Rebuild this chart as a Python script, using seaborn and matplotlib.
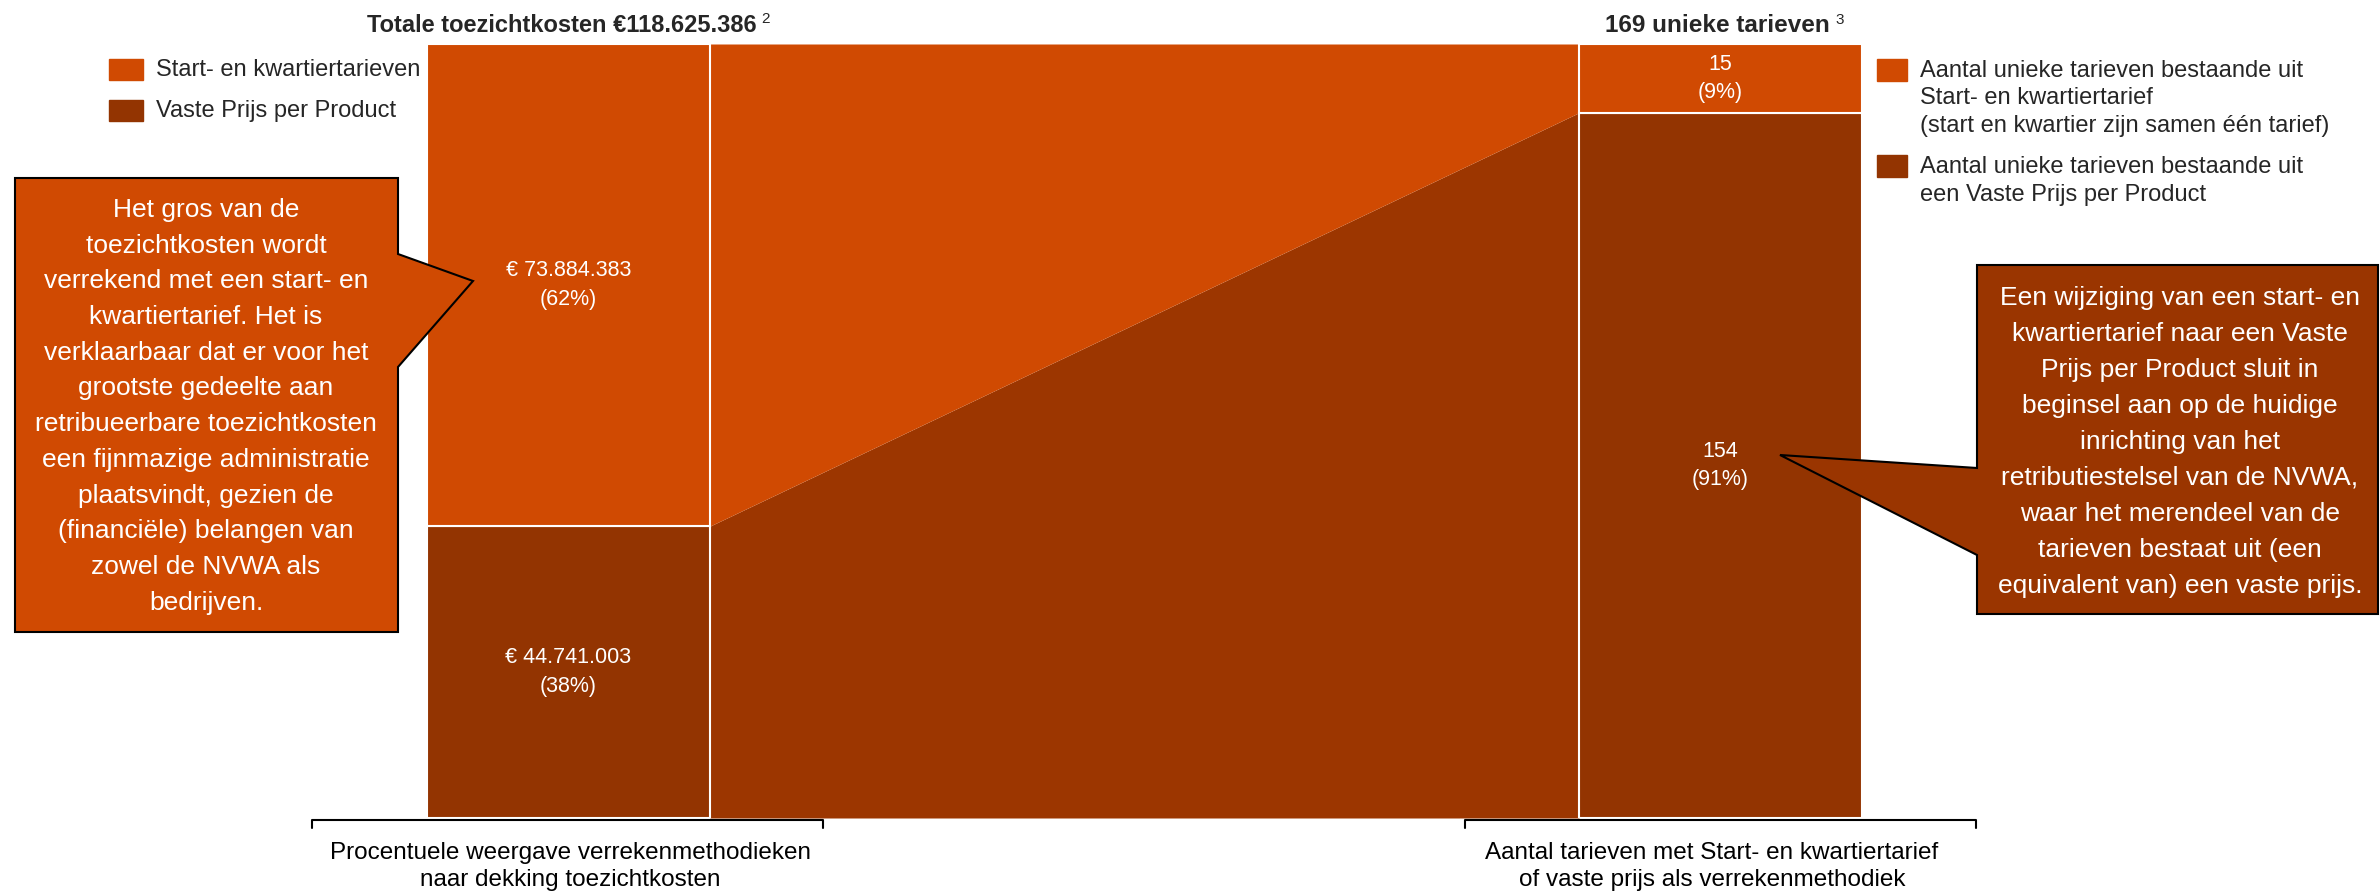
import numpy as np
import matplotlib
matplotlib.use("Agg")
import matplotlib.pyplot as plt
import seaborn as sns
from matplotlib.patches import Polygon, Rectangle

# ---- data -------------------------------------------------------------
methodes = ["Start- en kwartiertarieven", "Vaste Prijs per Product"]
kosten = [73884383, 44741003]          # euro per verrekenmethode
tarieven = [15, 154]                   # aantal unieke tarieven
tarief_legenda = [
    ["Aantal unieke tarieven bestaande uit", "Start- en kwartiertarief",
     "(start en kwartier zijn samen één tarief)"],
    ["Aantal unieke tarieven bestaande uit", "een Vaste Prijs per Product"],
]
bracket_tekst = [
    ["Procentuele weergave verrekenmethodieken", "naar dekking toezichtkosten"],
    ["Aantal tarieven met Start- en kwartiertarief", "of vaste prijs als verrekenmethodiek"],
]
callout_links = [
    "Het gros van de", "toezichtkosten wordt", "verrekend met een start- en",
    "kwartiertarief. Het is", "verklaarbaar dat er voor het", "grootste gedeelte aan",
    "retribueerbare toezichtkosten", "een fijnmazige administratie",
    "plaatsvindt, gezien de", "(financiële) belangen van", "zowel de NVWA als",
    "bedrijven.",
]
callout_rechts = [
    "Een wijziging van een start- en", "kwartiertarief naar een Vaste",
    "Prijs per Product sluit in", "beginsel aan op de huidige",
    "inrichting van het", "retributiestelsel van de NVWA,",
    "waar het merendeel van de", "tarieven bestaat uit (een",
    "equivalent van) een vaste prijs.",
]

orange = "#D04A02"
dark = "#933401"
band_dark = "#9C3600"
call_dark = "#9A3500"

sns.set_theme(style="white")
plt.rcParams['font.family'] = ['Liberation Sans', 'DejaVu Sans']

W, H = 2380, 891
fig = plt.figure(figsize=(W / 100, H / 100), dpi=100)
fig.patch.set_facecolor("white")

# main axes for the bars (pixel box 427..1862 x 44..818)
ax = fig.add_axes([427 / W, (H - 818) / H, 1435 / W, 774 / H])
ax.set_xlim(0, 1)
ax.set_ylim(0, 1)
ax.axis("off")

k_share = np.array(kosten) / sum(kosten)
t_share = np.array(tarieven) / sum(tarieven)
w = 283 / 1435

# connecting band between both bars
xs = [w, 1 - w]
lower = [k_share[1], t_share[1]]
ax.fill_between(xs, 0, lower, color=band_dark, lw=0, zorder=1)
ax.fill_between(xs, lower, 1, color=orange, lw=0, zorder=1)

for x0, share in [(0, k_share), (1 - w, t_share)]:
    ax.bar(x0, share[1], width=w, align="edge", color=dark,
           edgecolor="white", linewidth=1.5, zorder=2)
    ax.bar(x0, share[0], bottom=share[1], width=w, align="edge", color=orange,
           edgecolor="white", linewidth=1.5, zorder=2)

lab_kw = dict(color="white", fontsize=15.5, ha="center", va="center",
              linespacing=1.45, zorder=3)
fmt_eur = lambda v: "€ " + f"{v:,}".replace(",", ".")
ax.text(w / 2, k_share[1] + k_share[0] / 2,
        f"{fmt_eur(kosten[0])}\n({k_share[0] * 100:.0f}%)", **lab_kw)
ax.text(w / 2, k_share[1] / 2,
        f"{fmt_eur(kosten[1])}\n({k_share[1] * 100:.0f}%)", **lab_kw)
ax.text(1 - w / 2, t_share[1] + t_share[0] / 2,
        f"{tarieven[0]}\n({t_share[0] * 100:.0f}%)", **lab_kw)
ax.text(1 - w / 2, t_share[1] / 2,
        f"{tarieven[1]}\n({t_share[1] * 100:.0f}%)", **lab_kw)

# overlay in pixel coordinates for annotations
ov = fig.add_axes([0, 0, 1, 1], zorder=5)
ov.set_xlim(0, W)
ov.set_ylim(H, 0)
ov.axis("off")
ov.patch.set_alpha(0)


def lines_at(x, y0, step, lines, **kw):
    for i, t in enumerate(lines):
        ov.text(x, y0 + i * step, t, ha="center", va="center", **kw)


# titles
ov.text(757, 25, "Totale toezichtkosten " + "€" + f"{sum(kosten):,}".replace(",", "."),
        fontsize=17, fontweight="bold", ha="right", va="center")
ov.text(761, 19, "2", fontsize=11, ha="left", va="center")
ov.text(1830, 26, f"{sum(tarieven)} unieke tarieven",
        fontsize=17.5, fontweight="bold", ha="right", va="center")
ov.text(1835, 20, "3", fontsize=11, ha="left", va="center")

# left legend
for (y, col, txt) in [(70, orange, methodes[0]), (111, dark, methodes[1])]:
    ov.add_patch(Rectangle((109, y - 11), 34, 21, color=col))
    ov.text(156, y, txt, fontsize=17, ha="left", va="center")

# right legend
for (y, col, txt) in [(71, orange, tarief_legenda[0]), (167, dark, tarief_legenda[1])]:
    ov.add_patch(Rectangle((1877, y - 12), 30, 22, color=col))
    for i, t in enumerate(txt):
        ov.text(1920, y + i * 27.5, t, fontsize=17, ha="left", va="center")

# brackets below the bars
for (x1, x2, xc, txt) in [(312, 823, 570, bracket_tekst[0]),
                          (1465, 1976, 1712, bracket_tekst[1])]:
    ov.plot([x1, x1, x2, x2], [828, 820, 820, 828], color="black", lw=1.5)
    lines_at(xc, 853, 27, txt, fontsize=17.5, color="black")

# callouts
ov.add_patch(Polygon([(15, 178), (398, 178), (398, 254), (473, 281), (398, 367),
                      (398, 632), (15, 632)], closed=True,
                     facecolor=orange, edgecolor="black", lw=1.5))
lines_at(206, 210, 35.7, callout_links, fontsize=19, color="white")

ov.add_patch(Polygon([(1977, 265), (2378, 265), (2378, 614), (1977, 614),
                      (1977, 555), (1780, 455), (1977, 468)], closed=True,
                     facecolor=call_dark, edgecolor="black", lw=1.5))
lines_at(2180, 298, 36, callout_rechts, fontsize=19, color="white")

fig.savefig("out.png", dpi=100)
